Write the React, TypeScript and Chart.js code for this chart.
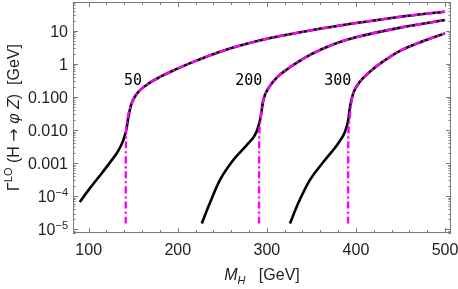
import React, { useEffect, useRef } from "react";
import { Chart, registerables } from "chart.js";

Chart.register(...registerables);

// ---------- data ----------
// m_phi = 50 GeV
const mass50Full = [90, 100, 112, 124, 133, 138, 141, 142.5, 144, 146, 148, 154, 165, 180, 199, 214, 250, 300, 350, 400, 450, 500];
const width50Full = [6.7e-5, 1.55e-4, 4e-4, 1.05e-3, 2.3e-3, 4.3e-3, 7.5e-3, 0.011, 0.02, 0.038, 0.062, 0.125, 0.23, 0.4, 0.7, 1.05, 2.45, 5.7, 10.3, 17, 26.5, 37.5];
const mass50TwoBody = [141.6, 141.7, 141.9, 142.8, 144.5, 146.5, 148, 154, 165, 180, 199, 214, 250, 300, 350, 400, 450, 500];
const width50TwoBody = [1.5e-5, 1e-3, 6e-3, 0.016, 0.03, 0.045, 0.062, 0.125, 0.23, 0.4, 0.7, 1.05, 2.45, 5.7, 10.3, 17, 26.5, 37.5];

// m_phi = 200 GeV
const mass200Full = [227, 236, 247.4, 262.3, 277.4, 286.7, 290.4, 293.1, 296, 301.6, 311, 324, 337, 350, 375, 400, 450, 500];
const width200Full = [1.5e-5, 6.2e-5, 3.1e-4, 1.24e-3, 3.5e-3, 7.1e-3, 0.0126, 0.025, 0.08, 0.18, 0.38, 0.72, 1.22, 1.95, 3.9, 6.3, 12.4, 21];
const mass200TwoBody = [291.2, 291.3, 291.5, 292.4, 294, 296, 301.6, 311, 324, 337, 350, 375, 400, 450, 500];
const width200TwoBody = [1.5e-5, 1e-3, 6e-3, 0.016, 0.04, 0.08, 0.18, 0.38, 0.72, 1.22, 1.95, 3.9, 6.3, 12.4, 21];

// m_phi = 300 GeV
const mass300Full = [326, 335.3, 348.4, 365.2, 380.2, 387.7, 391.4, 393.3, 397, 404.6, 415.8, 429, 450, 475, 500];
const width300Full = [1.5e-5, 6.2e-5, 3.1e-4, 1.24e-3, 4e-3, 8.9e-3, 0.02, 0.05, 0.13, 0.29, 0.58, 1.1, 2.5, 4.8, 8.3];
const mass300TwoBody = [391.2, 391.3, 391.5, 392.4, 394, 397, 404.6, 415.8, 429, 450, 475, 500];
const width300TwoBody = [1.5e-5, 1e-3, 6e-3, 0.016, 0.045, 0.13, 0.29, 0.58, 1.1, 2.5, 4.8, 8.3];

// curve annotations
const curveLabels = ["50", "200", "300"];
const curveLabelMass = [149.7, 279.6, 379.7];
const curveLabelWidth = [0.3, 0.3, 0.3];

// axes
const xMin = 82.4;
const xMax = 506.7;
const yMin = 7.73e-6;
const yMax = 73.6;
const xMajorTicks = [100, 200, 300, 400, 500];
const xMajorLabels = ["100", "200", "300", "400", "500"];
const xMinorTicks = [120, 140, 160, 180, 220, 240, 260, 280, 320, 340, 360, 380, 420, 440, 460, 480];
const yMajorTicks = [1e-5, 1e-4, 1e-3, 1e-2, 1e-1, 1, 10];
const yMajorLabels: (string | [string, string])[] = [["10", "\u22125"], ["10", "\u22124"], "0.001", "0.010", "0.100", "1", "10"];
const yMinorMultipliers = [2, 3, 4, 5, 6, 7, 8, 9];

const BLACK = "#000000";
const MAGENTA = "#ff00ff";
const FRAME = "#7a7a7a";
const LABEL = "#222222";
const SANS = "'Liberation Sans', Arial, sans-serif";

function pts(xs: number[], ys: number[]) {
  return xs.map((x, i) => ({ x, y: ys[i] }));
}

const framePlugin = {
  id: "mmaFrame",
  afterDatasetsDraw(chart: any) {
    const { ctx, chartArea } = chart;
    const xs = chart.scales.x;
    const ys = chart.scales.y;
    const { left, right, top, bottom } = chartArea;
    ctx.save();
    ctx.strokeStyle = FRAME;
    ctx.lineWidth = 1;
    ctx.strokeRect(Math.round(left) + 0.5, Math.round(top) + 0.5, Math.round(right - left) - 1, Math.round(bottom - top) - 1);
    ctx.beginPath();
    const vtick = (v: number, len: number) => {
      const p = Math.round(xs.getPixelForValue(v)) + 0.5;
      ctx.moveTo(p, bottom);
      ctx.lineTo(p, bottom - len);
      ctx.moveTo(p, top);
      ctx.lineTo(p, top + len);
    };
    const htick = (v: number, len: number) => {
      const p = Math.round(ys.getPixelForValue(v)) + 0.5;
      ctx.moveTo(left, p);
      ctx.lineTo(left + len, p);
      ctx.moveTo(right, p);
      ctx.lineTo(right - len, p);
    };
    xMajorTicks.forEach((v) => vtick(v, 5));
    xMinorTicks.forEach((v) => vtick(v, 3));
    yMajorTicks.forEach((v) => htick(v, 5));
    const decades = [1e-6, 1e-5, 1e-4, 1e-3, 1e-2, 1e-1, 1, 10];
    decades.forEach((d) =>
      yMinorMultipliers.forEach((m) => {
        const v = d * m;
        if (v > yMin && v < yMax) htick(v, 2.5);
      })
    );
    ctx.stroke();

    // curve labels
    ctx.fillStyle = BLACK;
    ctx.font = "15px 'DejaVu Sans Mono', monospace";
    ctx.textAlign = "center";
    ctx.textBaseline = "middle";
    curveLabels.forEach((t, i) => {
      ctx.fillText(t, xs.getPixelForValue(curveLabelMass[i]), ys.getPixelForValue(curveLabelWidth[i]));
    });
    ctx.restore();
  },
  afterDraw(chart: any) {
    const { ctx, chartArea } = chart;
    const xs = chart.scales.x;
    const ys = chart.scales.y;
    ctx.save();
    ctx.fillStyle = LABEL;
    ctx.textBaseline = "alphabetic";
    // x tick labels
    ctx.font = `16px ${SANS}`;
    ctx.textAlign = "center";
    xMajorTicks.forEach((v, i) => {
      ctx.fillText(xMajorLabels[i], xs.getPixelForValue(v), chartArea.bottom + 22);
    });
    // y tick labels
    const rightEdge = chartArea.left - 5;
    yMajorTicks.forEach((v, i) => {
      const p = ys.getPixelForValue(v);
      const lab = yMajorLabels[i];
      ctx.textAlign = "right";
      if (Array.isArray(lab)) {
        ctx.font = `11px ${SANS}`;
        const supW = ctx.measureText(lab[1]).width;
        ctx.fillText(lab[1], rightEdge, p);
        ctx.font = `16px ${SANS}`;
        ctx.fillText(lab[0], rightEdge - supW, p + 6);
      } else {
        ctx.font = `16px ${SANS}`;
        ctx.fillText(lab, rightEdge, p + 6);
      }
    });

    // x axis title: M_H  [GeV]
    ctx.fillStyle = LABEL;
    ctx.textAlign = "left";
    const xParts: [string, string, number][] = [
      ["M", `italic 16px ${SANS}`, 0],
      ["H", `italic 11px ${SANS}`, 4],
      ["   [GeV]", `16px ${SANS}`, 0],
    ];
    let total = 0;
    xParts.forEach(([t, f]) => {
      ctx.font = f;
      total += ctx.measureText(t).width;
    });
    let cx = (chartArea.left + chartArea.right) / 2 - total / 2;
    const xBase = chartArea.bottom + 47;
    xParts.forEach(([t, f, dy]) => {
      ctx.font = f;
      ctx.fillText(t, cx, xBase + dy);
      cx += ctx.measureText(t).width;
    });

    // y axis title: Γ^LO (H → φ Z)  [GeV]
    const yParts: [string, string, number][] = [
      ["\u0393", `16px ${SANS}`, 0],
      ["LO", `11px ${SANS}`, -7],
      [" (H ", `16px ${SANS}`, 0],
      ["\u2192", `16px 'DejaVu Sans', sans-serif`, 0],
      [" ", `16px ${SANS}`, 0],
      ["\u03C6", `italic 16px ${SANS}`, 0],
      [" ", `16px ${SANS}`, 0],
      ["Z", `italic 16px ${SANS}`, 0],
      [")", `16px ${SANS}`, 0],
      ["  [GeV]", `16px ${SANS}`, 0],
    ];
    total = 0;
    yParts.forEach(([t, f]) => {
      ctx.font = f;
      total += ctx.measureText(t).width;
    });
    ctx.translate(18.5, (chartArea.top + chartArea.bottom) / 2);
    ctx.rotate(-Math.PI / 2);
    let cy = -total / 2;
    yParts.forEach(([t, f, dy]) => {
      ctx.font = f;
      ctx.fillText(t, cy, dy);
      cy += ctx.measureText(t).width;
    });
    ctx.restore();
  },
};

function line(xs: number[], ys: number[], color: string, dashed: boolean) {
  return {
    data: pts(xs, ys),
    borderColor: color,
    backgroundColor: color,
    borderWidth: dashed ? 2.4 : 2.6,
    borderDash: dashed ? [7, 3, 2, 3] : [],
    pointRadius: 0,
    fill: false,
    cubicInterpolationMode: "monotone" as const,
  };
}

export default function App() {
  const ref = useRef<HTMLCanvasElement | null>(null);
  useEffect(() => {
    if (!ref.current) return;
    const chart = new Chart(ref.current, {
      type: "line",
      data: {
        datasets: [
          line(mass50TwoBody, width50TwoBody, MAGENTA, true),
          line(mass200TwoBody, width200TwoBody, MAGENTA, true),
          line(mass300TwoBody, width300TwoBody, MAGENTA, true),
          line(mass50Full, width50Full, BLACK, false),
          line(mass200Full, width200Full, BLACK, false),
          line(mass300Full, width300Full, BLACK, false),
        ],
      },
      options: {
        animation: false,
        responsive: false,
        devicePixelRatio: 1,
        layout: { padding: { left: 73, right: 7, top: 2, bottom: 56 } },
        plugins: { legend: { display: false }, tooltip: { enabled: false }, title: { display: false } },
        scales: {
          x: { type: "linear", min: xMin, max: xMax, display: false },
          y: { type: "logarithmic", min: yMin, max: yMax, display: false },
        },
      },
      plugins: [framePlugin],
    });
    return () => chart.destroy();
  }, []);
  return (
    <div style={{ position: "absolute", left: 0, top: 0, width: 458, height: 289, background: "#fff" }}>
      <canvas ref={ref} width={458} height={289} />
    </div>
  );
}
